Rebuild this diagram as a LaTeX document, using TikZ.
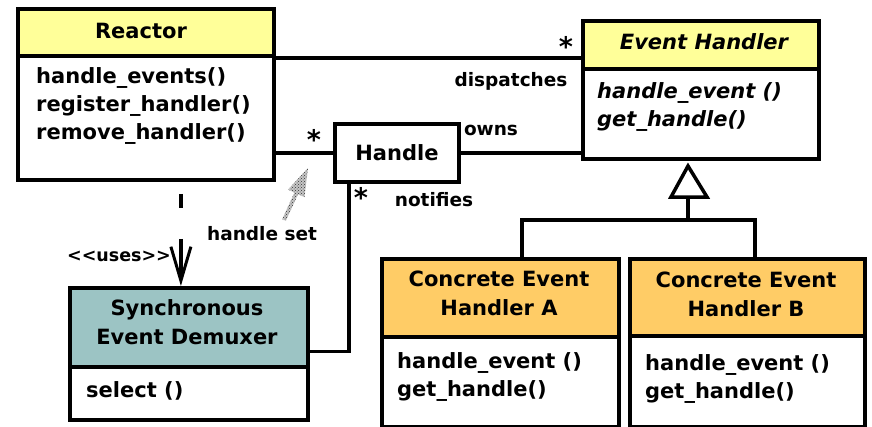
\documentclass[tikz,border=0pt]{standalone}
\usepackage{fontspec}
\setmainfont{DejaVu Sans}
\usetikzlibrary{arrows.meta,calc,patterns}
\definecolor{hdrY}{HTML}{FFFF99}
\definecolor{hdrO}{HTML}{FFCC66}
\definecolor{hdrT}{HTML}{9CC4C4}
\tikzset{
  box/.style={draw=black, line width=3.8pt, fill=white, anchor=north west, inner sep=0pt},
  boxtext/.style={font=\bfseries\fontsize{21}{29}\selectfont, inner sep=0pt, align=center},
  meth/.style={font=\bfseries\fontsize{21}{28}\selectfont, inner sep=0pt, align=left, anchor=west},
  lbl/.style={font=\bfseries\fontsize{18.5}{22}\selectfont, inner sep=0pt},
  star/.style={font=\bfseries\fontsize{27}{27}\selectfont, inner sep=0pt},
  conn/.style={line width=3.2pt}
}
\begin{document}
\begin{tikzpicture}[x=1pt,y=-1pt]
\useasboundingbox (0,0) rectangle (872,426);
% Reactor
\node[box, minimum width=256pt, minimum height=124pt] (reactorB) at (16,54) {};
\node[box, fill=hdrY, minimum width=256pt, minimum height=47pt] (reactorH) at (16,7) {};
\node[boxtext] (reactorT) at (141,31) {Reactor};
\node[meth] (reactorM) at (36,106) {handle\_events()\\register\_handler()\\remove\_handler()};
% Event Handler
\node[box, minimum width=236pt, minimum height=90pt] (ehB) at (581,67) {};
\node[box, fill=hdrY, minimum width=236pt, minimum height=48pt] (ehH) at (581,19) {};
\node[boxtext, font=\bfseries\itshape\fontsize{21}{28}\selectfont] (ehT) at (704,42) {Event Handler};
\node[meth, font=\bfseries\itshape\fontsize{21}{28}\selectfont] (ehM) at (597,107) {handle\_event ()\\get\_handle()};
% Handle
\node[box, minimum width=124pt, minimum height=58pt] (handle) at (333,122) {};
\node[boxtext] (handleT) at (handle.center) {Handle};
% Synchronous Event Demuxer
\node[box, minimum width=238pt, minimum height=53pt] (demB) at (68,365) {};
\node[box, fill=hdrT, minimum width=238pt, minimum height=79pt] (demH) at (68,286) {};
\node[boxtext] (demT) at (187,322) {Synchronous\\Event Demuxer};
\node[meth] (demM) at (86,391) {select ()};
% Concrete A
\node[box, minimum width=237pt, minimum height=90pt] (caB) at (380,335) {};
\node[box, fill=hdrO, minimum width=237pt, minimum height=78pt] (caH) at (380,257) {};
\node[boxtext] (caT) at (499,293) {Concrete Event\\Handler A};
\node[meth] (caM) at (397,377) {handle\_event ()\\get\_handle()};
% Concrete B
\node[box, minimum width=235pt, minimum height=91pt] (cbB) at (628,334) {};
\node[box, fill=hdrO, minimum width=235pt, minimum height=77pt] (cbH) at (628,257) {};
\node[boxtext] (cbT) at (746,294) {Concrete Event\\Handler B};
\node[meth] (cbM) at (645,379) {handle\_event ()\\get\_handle()};
% connectors
\draw[conn] ([yshift=-4pt]reactorB.north east) -- ([yshift=-4pt]reactorB.north east -| ehH.west);
\draw[conn] (reactorB.east |- handle.west) -- (handle.west);
\draw[conn] (handle.east) -- (handle.east -| ehB.west);
\draw[conn] ([xshift=16pt]handle.south west) |- ([yshift=-24pt]demH.east);
% uses
\draw[conn, dash pattern=on 14pt off 31pt on 60pt off 12pt, dash phase=105pt,
      -{Straight Barb[length=34pt,width=20pt,line width=3pt]}]
  ([xshift=35pt]reactorB.south) -- ([xshift=35pt]reactorB.south |- demH.north);
% generalization
\coordinate (genTip) at (688,166);
\coordinate (genBase) at (688,197);
\coordinate (genBar) at (688,220);
\draw[line width=3.5pt, fill=white, line join=miter] (genTip) -- (671,197) -- (707,197) -- cycle;
\draw[conn] (genBase) -- (genBar);
\draw[conn] (caH.north -| 522,0) |- (genBar) -| (cbH.north -| 755,0);
% handle set arrow
\coordinate (hsTail) at (284,220);
\coordinate (hsTip) at (308,168);
\fill[gray!45] (282.2,219.2) -- (294.5,192.6) -- (288.1,189.6) -- (hsTip) -- (304.5,197.2) -- (298.1,194.2) -- (285.8,220.8) -- cycle;
\fill[pattern=crosshatch dots, pattern color=black!80] (282.2,219.2) -- (294.5,192.6) -- (288.1,189.6) -- (hsTip) -- (304.5,197.2) -- (298.1,194.2) -- (285.8,220.8) -- cycle;
% labels
\node[star] (m1) at (566,46) {*};
\node[lbl] (dispL) at (511,81) {dispatches};
\node[star] (m2) at (314,139) {*};
\node[lbl] (ownsL) at (491,130) {owns};
\node[star] (m3) at (361,197) {*};
\node[lbl] (notL) at (434,200) {notifies};
\node[lbl] (hsL) at (262,234) {handle set};
\node[lbl, font=\bfseries\fontsize{17.5}{20}\selectfont] (usesL) at (119,256) {<{}<uses>{}>};
\end{tikzpicture}
\end{document}
